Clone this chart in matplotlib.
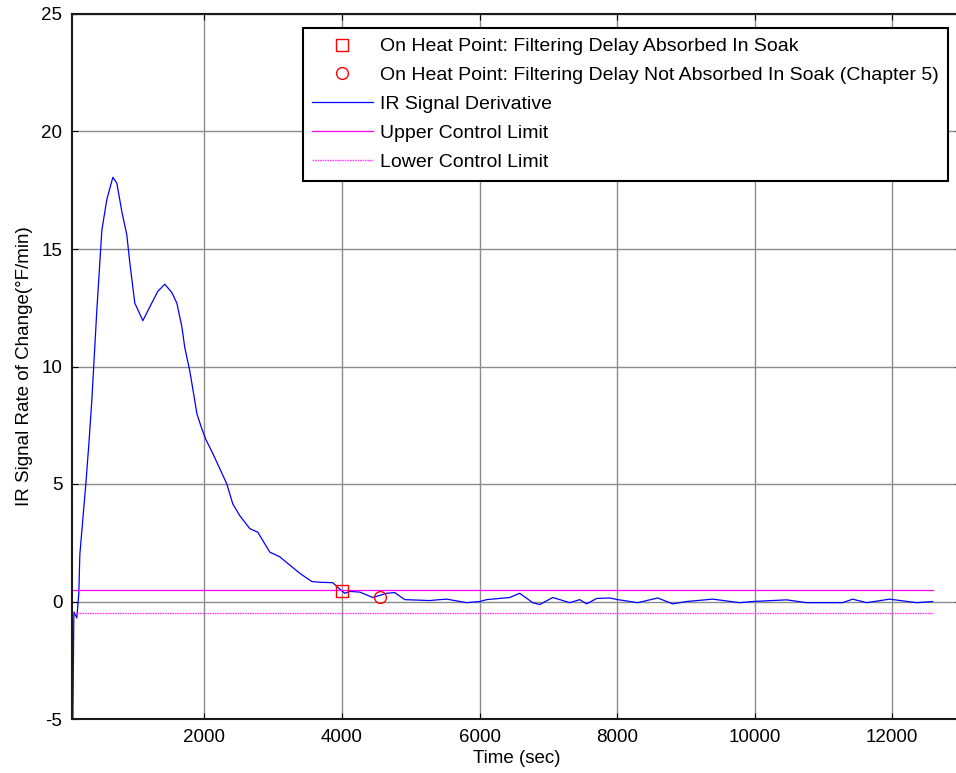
import matplotlib.pyplot as plt
import numpy as np

plt.rcParams['font.family'] = ['Liberation Sans', 'DejaVu Sans']
plt.rcParams['axes.unicode_minus'] = False

# IR signal derivative (time in sec, rate in F/min)
t_sec = [75, 102, 145, 174, 189, 276, 320, 363, 436, 509, 581, 669, 727, 799,
         872, 916, 988, 1105, 1235, 1323, 1424, 1526, 1599, 1672, 1715, 1788,
         1860, 1890, 1962, 2020, 2122, 2224, 2326, 2413, 2515, 2660, 2776, 2951,
         3096, 3241, 3387, 3561, 3677, 3866, 3939, 4041, 4113, 4259, 4448, 4549,
         4651, 4767, 4913, 5276, 5422, 5523, 5814, 6003, 6105, 6439, 6584, 6773,
         6875, 7064, 7166, 7311, 7456, 7558, 7703, 7892, 8009, 8299, 8590, 8808,
         9012, 9390, 9782, 9971, 10465, 10756, 11279, 11424, 11628, 11962,
         12355, 12587]
rate = [-9.0, -0.45, -0.7, 0.35, 2.0, 5.0, 6.7, 8.55, 12.4, 15.8, 17.1, 18.05,
        17.8, 16.6, 15.6, 14.4, 12.7, 11.95, 12.7, 13.2, 13.5, 13.15, 12.7,
        11.7, 10.8, 9.8, 8.55, 8.0, 7.35, 6.9, 6.3, 5.65, 5.0, 4.15, 3.65, 3.1,
        2.95, 2.1, 1.9, 1.55, 1.2, 0.85, 0.82, 0.8, 0.6, 0.35, 0.43, 0.4, 0.17,
        0.26, 0.35, 0.38, 0.08, 0.04, 0.08, 0.1, -0.05, 0.0, 0.08, 0.17, 0.35,
        -0.05, -0.13, 0.17, 0.08, -0.05, 0.08, -0.1, 0.13, 0.15, 0.08, -0.05,
        0.15, -0.1, 0.0, 0.1, -0.05, 0.0, 0.07, -0.05, -0.05, 0.1, -0.05, 0.1,
        -0.05, 0.0]

# on heat points
sq_t, sq_y = [4000], [0.43]
circ_t, circ_y = [4550], [0.21]

# control limits
limit_t = [75, 12587]
ucl = [0.5, 0.5]
lcl = [-0.5, -0.5]

fig = plt.figure(figsize=(9.56, 7.73), dpi=100)
ax = fig.add_axes([72/956, 54/773, (961-72)/956, 705/773])

ax.plot(sq_t, sq_y, 's', ms=8.5, mfc='none', mec='red', mew=1, zorder=5,
        label='On Heat Point: Filtering Delay Absorbed In Soak')
ax.plot(circ_t, circ_y, 'o', ms=8.5, mfc='none', mec='red', mew=1, zorder=5,
        label='On Heat Point: Filtering Delay Not Absorbed In Soak (Chapter 5)')
ax.plot(t_sec, rate, color='blue', lw=0.9, label='IR Signal Derivative')
ax.plot(limit_t, ucl, color='#ff00ff', lw=0.9, label='Upper Control Limit')
ax.plot(limit_t, lcl, color='#ff44ff', lw=1.0, ls=(0, (1.2, 0.6)),
        label='Lower Control Limit')

ax.set_xlim(75, 13000)
ax.set_ylim(-5, 25)
ax.set_xticks([2000, 4000, 6000, 8000, 10000, 12000])
ax.set_yticks([-5, 0, 5, 10, 15, 20, 25])
ax.grid(True, color='#8c8c8c', lw=1)
ax.set_axisbelow(True)
ax.tick_params(direction='in', top=True, right=True, length=4,
               labelsize=13.5, pad=7, color='black')
for s in ax.spines.values():
    s.set_linewidth(1.5)
    s.set_color('#1a1a1a')

ax.set_xlabel('Time (sec)', fontsize=13.5, labelpad=3)
ax.set_ylabel('IR Signal Rate of Change(°F/min)', fontsize=13.5, labelpad=6)

leg = ax.legend(loc='upper right', bbox_to_anchor=(948/956, 1-28/773),
                bbox_transform=fig.transFigure, fontsize=14, fancybox=False,
                framealpha=1, edgecolor='black', borderaxespad=0,
                handlelength=3.1, handletextpad=0.36, labelspacing=0.58,
                borderpad=0.5)
leg.get_frame().set_linewidth(1.5)

fig.savefig('out.png', dpi=100)
